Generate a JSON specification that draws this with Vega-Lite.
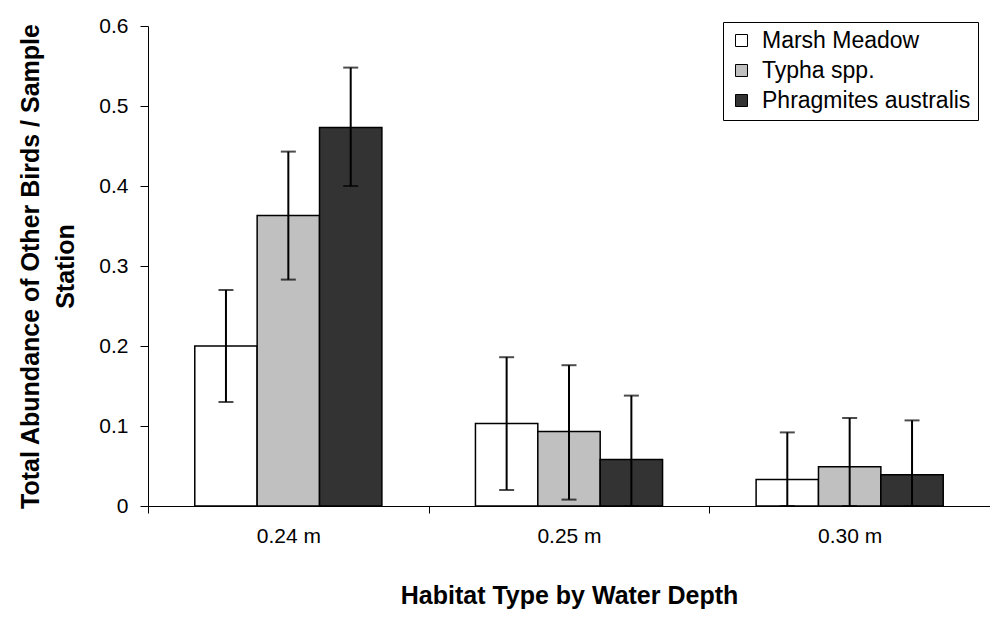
{
  "$schema": "https://vega.github.io/schema/vega-lite/v6.json",
  "autosize": "none",
  "padding": {"left": 148, "top": 26, "right": 0, "bottom": 112},
  "width": 842,
  "height": 480,
  "background": "white",
  "config": {
    "view": {"stroke": null},
    "font": "Liberation Sans",
    "axis": {
      "domainColor": "black",
      "domainWidth": 1,
      "tickColor": "black",
      "tickWidth": 1,
      "grid": false,
      "labelColor": "black",
      "labelFont": "Liberation Sans",
      "titleFont": "Liberation Sans",
      "titleColor": "black",
      "titleFontWeight": "bold"
    }
  },
  "data": {
    "values": [
      {"depth": "0.24 m", "habitat": "Marsh Meadow", "mean": 0.200, "lo": 0.130, "hi": 0.270},
      {"depth": "0.24 m", "habitat": "Typha spp.", "mean": 0.363, "lo": 0.283, "hi": 0.443},
      {"depth": "0.24 m", "habitat": "Phragmites australis", "mean": 0.473, "lo": 0.400, "hi": 0.548},
      {"depth": "0.25 m", "habitat": "Marsh Meadow", "mean": 0.103, "lo": 0.020, "hi": 0.186},
      {"depth": "0.25 m", "habitat": "Typha spp.", "mean": 0.093, "lo": 0.008, "hi": 0.176},
      {"depth": "0.25 m", "habitat": "Phragmites australis", "mean": 0.058, "lo": 0.0, "hi": 0.138},
      {"depth": "0.30 m", "habitat": "Marsh Meadow", "mean": 0.033, "lo": 0.0, "hi": 0.092},
      {"depth": "0.30 m", "habitat": "Typha spp.", "mean": 0.049, "lo": 0.0, "hi": 0.110},
      {"depth": "0.30 m", "habitat": "Phragmites australis", "mean": 0.039, "lo": 0.0, "hi": 0.107}
    ]
  },
  "encoding": {
    "x": {
      "field": "depth",
      "type": "nominal",
      "scale": {"paddingInner": 0, "paddingOuter": 0},
      "axis": {
        "title": "Habitat Type by Water Depth",
        "titleFontSize": 25,
        "titlePadding": 37,
        "labelAngle": 0,
        "labelFontSize": 21,
        "labelPadding": 12,
        "tickBand": "extent",
        "tickSize": 7
      }
    },
    "xOffset": {
      "field": "habitat",
      "type": "nominal",
      "sort": ["Marsh Meadow", "Typha spp.", "Phragmites australis"],
      "scale": {"paddingInner": 0, "paddingOuter": 0.75}
    }
  },
  "layer": [
    {
      "mark": {"type": "bar", "stroke": "black", "strokeWidth": 1.5},
      "encoding": {
        "y": {
          "field": "mean",
          "type": "quantitative",
          "scale": {"domain": [0, 0.6], "nice": false},
          "axis": {
            "title": ["Total Abundance of  Other Birds / Sample", "Station"],
            "titleFontSize": 25,
            "titleLineHeight": 35,
            "titlePadding": 20,
            "values": [0, 0.1, 0.2, 0.3, 0.4, 0.5, 0.6],
            "format": "~g",
            "labelFontSize": 21,
            "labelPadding": 12,
            "tickSize": 8
          }
        },
        "fill": {
          "field": "habitat",
          "type": "nominal",
          "sort": ["Marsh Meadow", "Typha spp.", "Phragmites australis"],
          "scale": {
            "domain": ["Marsh Meadow", "Typha spp.", "Phragmites australis"],
            "range": ["#ffffff", "#c0c0c0", "#333333"]
          },
          "legend": {
            "title": null,
            "orient": "none",
            "legendX": 575,
            "legendY": -4,
            "padding": 7,
            "strokeColor": "black",
            "fillColor": "white",
            "symbolType": "square",
            "symbolSize": 144,
            "symbolStrokeColor": "black",
            "symbolStrokeWidth": 1,
            "symbolOpacity": 1,
            "labelFontSize": 23,
            "labelLimit": 400,
            "labelColor": "black",
            "labelFont": "Liberation Sans",
            "rowPadding": 6,
            "labelOffset": 9
          }
        }
      }
    },
    {
      "mark": {"type": "rule", "color": "black", "strokeWidth": 2},
      "encoding": {
        "y": {"field": "lo", "type": "quantitative"},
        "y2": {"field": "hi"}
      }
    },
    {
      "mark": {"type": "tick", "color": "black", "thickness": 2, "size": 15, "orient": "horizontal"},
      "encoding": {
        "y": {"field": "hi", "type": "quantitative"}
      }
    },
    {
      "mark": {"type": "tick", "color": "black", "thickness": 2, "size": 15, "orient": "horizontal"},
      "encoding": {
        "y": {"field": "lo", "type": "quantitative"}
      }
    }
  ]
}
